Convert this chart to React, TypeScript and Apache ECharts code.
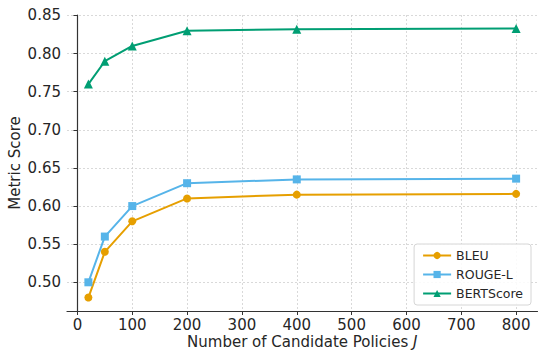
import React, { useEffect, useRef } from "react";
import * as echarts from "echarts";

const xValues = [20, 50, 100, 200, 400, 800];
const bleu = [0.48, 0.54, 0.58, 0.61, 0.615, 0.616];
const rougeL = [0.5, 0.56, 0.6, 0.63, 0.635, 0.636];
const bertScore = [0.76, 0.79, 0.81, 0.83, 0.832, 0.833];
const seriesNames = ["BLEU", "ROUGE-L", "BERTScore"];
const seriesColors = ["#E69F00", "#56B4E9", "#009E73"];
const seriesSymbols = ["circle", "rect", "triangle"];

const FONT = "DejaVu Sans";

export default function App() {
  const ref = useRef<HTMLDivElement>(null);
  useEffect(() => {
    if (!ref.current) return;
    const chart = echarts.init(ref.current, undefined, { renderer: "svg" });

    const W = 550, H = 361;
    const L = 67, R = 537.5, T = 15, B = 311;

    const allY = [...bleu, ...rougeL, ...bertScore];
    const xLo = Math.min(...xValues), xHi = Math.max(...xValues);
    const yLo = Math.min(...allY), yHi = Math.max(...allY);
    const xMin = xLo - 0.05 * (xHi - xLo), xMax = xHi + 0.05 * (xHi - xLo);
    const yMin = yLo - 0.05 * (yHi - yLo), yMax = yHi + 0.05 * (yHi - yLo);

    const px = (v: number) => L + ((v - xMin) / (xMax - xMin)) * (R - L);
    const py = (v: number) => B - ((v - yMin) / (yMax - yMin)) * (B - T);

    const xTickMin = 0, xTickMax = 800;
    const yTickMin = 0.5, yTickMax = 0.85;

    const gridLine = { show: true, lineStyle: { color: "#cfcfcf", type: [2, 2] as any, width: 0.8 } };
    const tickLabel = { color: "#262626", fontFamily: FONT, fontSize: 15 };
    const gridBase = { containLabel: false, outerBoundsMode: "none" };

    const data = [bleu, rougeL, bertScore];

    chart.setOption({
      animation: false,
      backgroundColor: "#ffffff",
      grid: [
        { ...gridBase, left: L, right: W - R, top: T, bottom: H - B },
        { ...gridBase, left: px(xTickMin), right: W - px(xTickMax), top: T, bottom: H - B },
        { ...gridBase, left: L, right: W - R, top: py(yTickMax), bottom: H - py(yTickMin) },
      ],
      xAxis: [
        {
          type: "value", gridIndex: 0, min: xMin, max: xMax, scale: true,
          axisLine: { show: true, lineStyle: { color: "#333333", width: 1.2 } },
          axisTick: { show: false }, axisLabel: { show: false }, splitLine: { show: false },
          name: "{a|Number of Candidate Policies }{b|J}",
          nameLocation: "middle", nameGap: 23,
          nameTextStyle: {
            rich: {
              a: { fontFamily: FONT, fontSize: 15, color: "#262626" },
              b: { fontFamily: FONT, fontSize: 15, color: "#262626", fontStyle: "italic" },
            },
          },
        },
        {
          type: "value", gridIndex: 1, min: xTickMin, max: xTickMax, interval: 100,
          axisLine: { show: false },
          axisTick: { show: true, inside: false, length: 4, lineStyle: { color: "#333333", width: 1 } },
          axisLabel: { ...tickLabel, margin: 6 },
          splitLine: gridLine,
        },
        {
          type: "value", gridIndex: 2, min: xMin, max: xMax, show: false,
        },
      ],
      yAxis: [
        {
          type: "value", gridIndex: 0, min: yMin, max: yMax, scale: true,
          axisLine: { show: true, lineStyle: { color: "#333333", width: 1.2 } },
          axisTick: { show: false }, axisLabel: { show: false }, splitLine: { show: false },
          name: "Metric Score", nameLocation: "middle", nameGap: 45, nameRotate: 90,
          nameTextStyle: { fontFamily: FONT, fontSize: 15, color: "#262626" },
        },
        {
          type: "value", gridIndex: 1, min: yMin, max: yMax, show: false,
        },
        {
          type: "value", gridIndex: 2, min: yTickMin, max: yTickMax, interval: 0.05,
          axisLine: { show: false },
          axisTick: { show: true, inside: false, length: 4, lineStyle: { color: "#333333", width: 1 } },
          axisLabel: { ...tickLabel, margin: 6, formatter: (v: number) => v.toFixed(2) },
          splitLine: gridLine,
        },
      ],
      legend: {
        show: true,
        orient: "vertical",
        right: 550 - 531,
        top: 244,
        padding: [5, 8, 5, 8],
        itemGap: 6,
        itemWidth: 28,
        itemHeight: 9,
        backgroundColor: "rgba(255,255,255,0.85)",
        borderColor: "#d6d6d6",
        borderWidth: 1,
        borderRadius: 3,
        textStyle: { fontFamily: FONT, fontSize: 12.5, color: "#262626" },
        data: seriesNames,
      },
      series: data.map((vals, i) => ({
        name: seriesNames[i],
        type: "line",
        xAxisIndex: 0,
        yAxisIndex: 0,
        data: xValues.map((x, j) => [x, vals[j]]),
        symbol: seriesSymbols[i],
        symbolSize: i === 2 ? 9 : 8,
        showSymbol: true,
        itemStyle: { color: seriesColors[i] },
        lineStyle: { color: seriesColors[i], width: 2 },
        z: 3 + i,
      })),
    });
    return () => chart.dispose();
  }, []);
  return <div ref={ref} style={{ position: "absolute", left: 0, top: 0, width: 550, height: 361 }} />;
}
